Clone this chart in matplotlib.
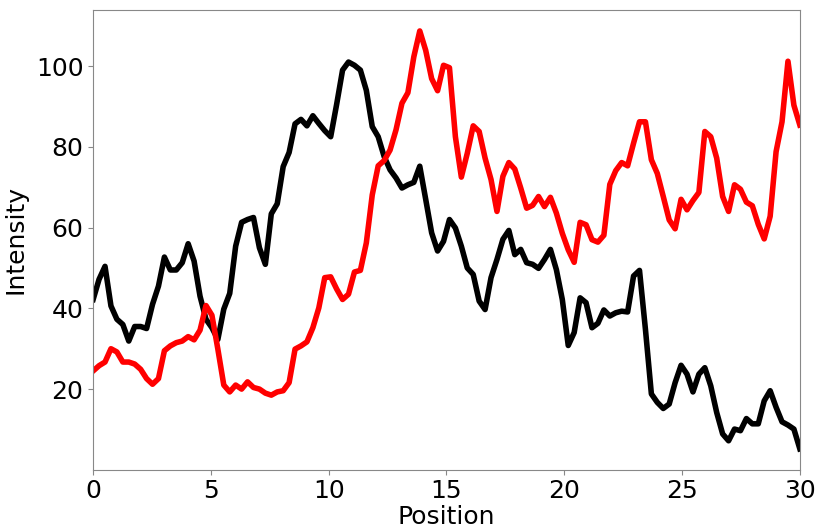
import numpy as np
import matplotlib
matplotlib.use('Agg')
import matplotlib.pyplot as plt

# intensity profiles, 120 samples over 0-30
black_vals = [42.2, 47.2, 50.4, 40.6, 37.3, 36.0, 31.9, 35.5, 35.5, 35.0,
              41.0, 45.5, 52.7, 49.5, 49.5, 51.3, 56.0, 51.7, 43.0, 37.3,
              35.2, 32.3, 39.8, 43.7, 55.4, 61.3, 62.0, 62.5, 55.0, 50.9,
              63.4, 65.9, 75.1, 78.6, 85.7, 86.8, 85.2, 87.7, 85.8, 84.0,
              82.5, 90.5, 99.0, 101.0, 100.2, 99.0, 94.0, 85.0, 82.5, 77.6,
              74.3, 72.3, 69.8, 70.6, 71.2, 75.2, 67.0, 58.7, 54.2, 56.6,
              62.0, 59.9, 55.4, 50.0, 48.4, 41.8, 39.7, 47.6, 52.1, 57.1,
              59.3, 53.3, 54.6, 51.3, 50.9, 49.9, 52.1, 54.6, 49.6, 42.2,
              30.8, 34.0, 42.6, 41.4, 35.2, 36.3, 39.6, 38.1, 38.9, 39.3,
              39.1, 48.0, 49.4, 34.8, 18.8, 16.7, 15.2, 16.3, 21.6, 25.9,
              23.7, 19.3, 23.7, 25.3, 20.8, 14.2, 8.9, 7.2, 10.1, 9.7,
              12.7, 11.4, 11.4, 17.1, 19.6, 15.5, 11.9, 11.1, 10.1, 5.2]

red_vals = [24.5, 25.8, 26.7, 30.0, 29.2, 26.7, 26.7, 26.2, 24.9, 22.6,
            21.2, 22.6, 29.5, 30.7, 31.5, 31.9, 33.0, 32.2, 34.6, 40.7,
            38.3, 29.9, 21.0, 19.3, 21.0, 20.0, 21.8, 20.4, 20.0, 19.0,
            18.5, 19.3, 19.6, 21.6, 29.9, 30.7, 31.7, 35.2, 40.1, 47.6,
            47.8, 44.8, 42.2, 43.5, 49.0, 49.4, 56.2, 68.1, 75.3, 76.6,
            79.2, 84.2, 90.8, 93.4, 102.3, 108.7, 103.9, 96.9, 93.9, 100.2,
            99.6, 82.5, 72.5, 78.4, 85.2, 83.8, 77.2, 71.9, 64.0, 72.7,
            76.1, 74.5, 69.8, 64.8, 65.5, 67.7, 65.2, 67.5, 63.6, 58.6,
            54.5, 51.4, 61.3, 60.7, 57.0, 56.4, 58.1, 70.7, 74.1, 76.1,
            75.3, 80.9, 86.2, 86.2, 76.8, 73.4, 67.7, 61.9, 59.7, 67.0,
            64.4, 66.7, 68.7, 83.8, 82.5, 77.2, 67.7, 64.0, 70.6, 69.5,
            66.3, 65.4, 60.8, 57.2, 62.8, 78.8, 86.2, 101.2, 90.3, 85.4]

position = np.linspace(0, 30, len(black_vals))

fig = plt.figure(figsize=(8.17, 5.29), dpi=100)
ax = fig.add_axes([0.114, 0.112, 0.865, 0.869])

ax.plot(position, black_vals, color='black', linewidth=4)
ax.plot(position, red_vals, color='red', linewidth=4)

ax.set_xlim(0, 30)
ax.set_xlabel('Position', fontsize=18, labelpad=1)
ax.set_ylabel('Intensity', fontsize=18, labelpad=6)
ax.tick_params(labelsize=18, color='#888888')
for sp in ax.spines.values():
    sp.set_color('#888888')

fig.savefig('out.png', dpi=100)
